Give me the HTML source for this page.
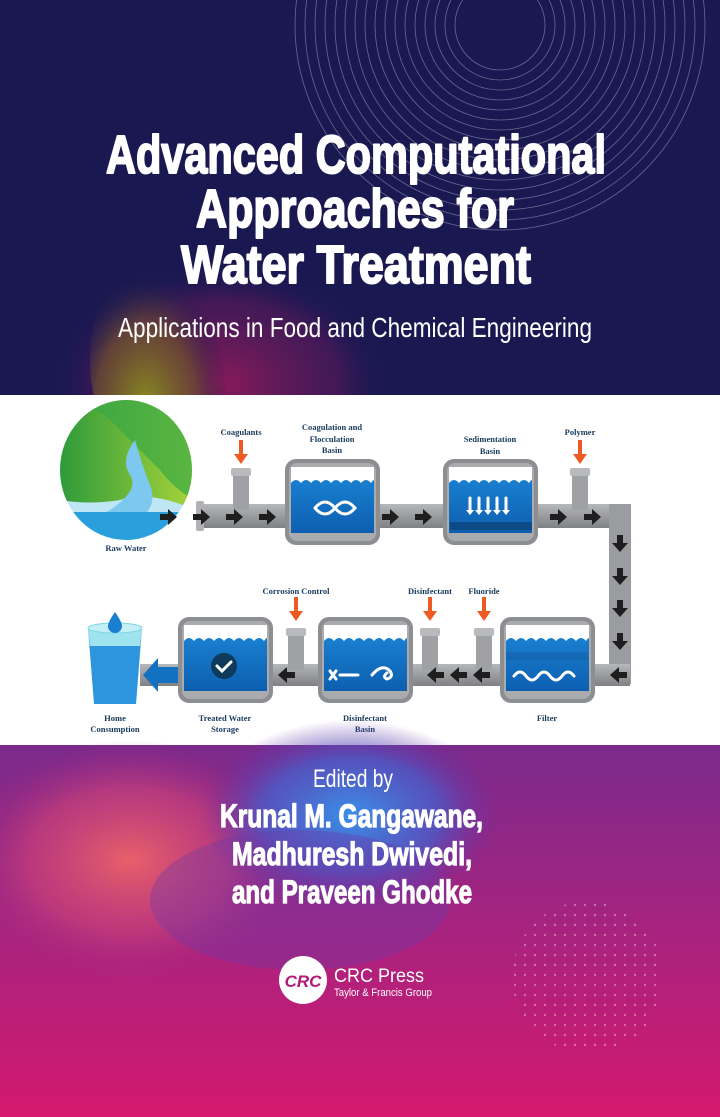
<!DOCTYPE html>
<html><head><meta charset="utf-8"><style>
html,body{margin:0;padding:0;width:720px;height:1117px;overflow:hidden;background:#1a1851}
svg{display:block}
</style></head><body>
<svg width="720" height="1117" viewBox="0 0 720 1117" xmlns="http://www.w3.org/2000/svg">
<defs>
<linearGradient id="bot" x1="0" y1="0" x2="0" y2="1">
<stop offset="0" stop-color="#7a2a8c"/><stop offset="0.5" stop-color="#a8237f"/><stop offset="1" stop-color="#d4186e"/>
</linearGradient>
<radialGradient id="blob1" cx="0.5" cy="0.5" r="0.5">
<stop offset="0" stop-color="#3b8fe8"/><stop offset="0.6" stop-color="#4b5bc8" stop-opacity="0.8"/><stop offset="1" stop-color="#6a2fa0" stop-opacity="0"/>
</radialGradient>
<radialGradient id="blob2" cx="0.5" cy="0.5" r="0.5">
<stop offset="0" stop-color="#e8606a"/><stop offset="0.6" stop-color="#c8407a" stop-opacity="0.7"/><stop offset="1" stop-color="#a02a80" stop-opacity="0"/>
</radialGradient>
<radialGradient id="topblob" cx="0.5" cy="0.6" r="0.5">
<stop offset="0" stop-color="#8a1a5a"/><stop offset="0.7" stop-color="#5a1a5a" stop-opacity="0.6"/><stop offset="1" stop-color="#1a1851" stop-opacity="0"/>
</radialGradient>
<radialGradient id="yel" cx="0.4" cy="0.7" r="0.6">
<stop offset="0" stop-color="#8a8a20"/><stop offset="0.6" stop-color="#6a4a30" stop-opacity="0.8"/><stop offset="1" stop-color="#1a1851" stop-opacity="0"/>
</radialGradient>
<linearGradient id="water" x1="0" y1="0" x2="0" y2="1"><stop offset="0" stop-color="#1a7fd0"/><stop offset="1" stop-color="#0d5fb0"/></linearGradient>
<linearGradient id="pipeH" x1="0" y1="0" x2="0" y2="1"><stop offset="0" stop-color="#b5b7ba"/><stop offset="0.5" stop-color="#9a9c9f"/><stop offset="1" stop-color="#7f8184"/></linearGradient>
<linearGradient id="land" x1="0" y1="0" x2="1" y2="0"><stop offset="0" stop-color="#2e9a3a"/><stop offset="1" stop-color="#a8d53a"/></linearGradient>
<clipPath id="circ"><ellipse cx="126" cy="470" rx="66" ry="70"/></clipPath>
<g id="tank">
<rect x="0" y="0" width="95" height="86" rx="11" fill="#8c8e91"/>
<rect x="4" y="4" width="87" height="78" rx="8" fill="#a9abae"/>
<rect x="6" y="20" width="83" height="54" fill="url(#water)"/>
<path d="M6 24 q5 -6 10 0 q5 -6 10 0 q5 -6 10 0 q5 -6 10 0 q5 -6 10 0 q5 -6 10 0 q5 -6 10 0 q5 -6 10 0 q4 -6 3 0 V18 H6Z" fill="#fff"/>
<rect x="6" y="8" width="83" height="12" fill="#fff"/>
</g>
<g id="arR"><path d="M0 -3 h8 v-5 l9 8 l-9 8 v-5 h-8z" fill="#1e1e1e"/></g>
<g id="arD"><path d="M-3 0 v8 h-5 l8 9 l8 -9 h-5 v-8z" fill="#1e1e1e"/></g>
<g id="arO"><path d="M-2 0 h4 v14 h5 l-7 10 l-7 -10 h5z" fill="#ef5a24"/></g>
<g id="stub"><rect x="0" y="6" width="16" height="36" fill="#9fa1a4"/><rect x="-2" y="0" width="20" height="8" rx="2" fill="#b8babd"/></g>
<pattern id="dots" width="10" height="10" patternUnits="userSpaceOnUse"><circle cx="5" cy="5" r="1.2" fill="#fff"/></pattern>
</defs>

<rect x="0" y="0" width="720" height="395" fill="#1a1851"/>
<ellipse cx="220" cy="360" rx="170" ry="120" fill="url(#topblob)"/>
<ellipse cx="160" cy="360" rx="70" ry="110" fill="url(#yel)"/>
<g fill="none" stroke="#ffffff" stroke-opacity="0.35" stroke-width="0.8">
<circle cx="500" cy="25" r="45"/><circle cx="500" cy="25" r="55"/><circle cx="500" cy="25" r="65"/><circle cx="500" cy="25" r="75"/><circle cx="500" cy="25" r="85"/><circle cx="500" cy="25" r="95"/><circle cx="500" cy="25" r="105"/><circle cx="500" cy="25" r="115"/><circle cx="500" cy="25" r="125"/><circle cx="500" cy="25" r="135"/><circle cx="500" cy="25" r="145"/><circle cx="500" cy="25" r="155"/><circle cx="500" cy="25" r="165"/><circle cx="500" cy="25" r="175"/><circle cx="500" cy="25" r="185"/><circle cx="500" cy="25" r="195"/><circle cx="500" cy="25" r="205"/>
</g>
<g font-family="'Liberation Sans Narrow','Liberation Sans',sans-serif" font-weight="bold" fill="#fff" stroke="#fff" stroke-width="2" stroke-linejoin="round">
<text x="106" y="173" font-size="54" textLength="500" lengthAdjust="spacingAndGlyphs">Advanced Computational</text>
<text x="196" y="227" font-size="54" textLength="318" lengthAdjust="spacingAndGlyphs">Approaches for</text>
<text x="181" y="283" font-size="54" textLength="350" lengthAdjust="spacingAndGlyphs">Water Treatment</text>
</g>
<text x="118" y="337" font-family="'Liberation Sans Narrow','Liberation Sans',sans-serif" font-size="28" fill="#fff" textLength="474" lengthAdjust="spacingAndGlyphs">Applications in Food and Chemical Engineering</text>

<rect x="0" y="395" width="720" height="350" fill="#fff"/>

<g clip-path="url(#circ)">
<rect x="60" y="400" width="135" height="140" fill="#bfe6f5"/>
<path d="M60 400 H195 V510 Q150 490 120 500 Q90 505 60 500Z" fill="url(#land)"/>
<path d="M60 420 Q90 400 110 420 Q130 440 160 470 Q175 490 195 500 V400 H60Z" fill="#3aa845" opacity="0.7"/>
<path d="M135 440 q-15 20 -5 35 q10 15 -20 35 q-20 12 -50 10 v20 q40 0 70 -15 q30 -15 20 -40 q-8 -20 -15 -45z" fill="#7cc8ee"/>
<rect x="60" y="512" width="135" height="30" fill="#29a0dc"/>
</g>
<rect x="196" y="504" width="430" height="24" fill="url(#pipeH)"/>
<rect x="196" y="501" width="8" height="30" rx="2" fill="#b0b2b5"/>
<rect x="609" y="504" width="22" height="180" fill="#9a9c9f"/>
<rect x="140" y="664" width="490" height="22" fill="url(#pipeH)"/>
<use href="#stub" x="233" y="468"/>
<use href="#stub" x="572" y="468"/>
<use href="#stub" x="288" y="628"/>
<use href="#stub" x="422" y="628"/>
<use href="#stub" x="476" y="628"/>
<use href="#arO" x="241" y="440"/>
<use href="#arO" x="580" y="440"/>
<use href="#arO" x="296" y="597"/>
<use href="#arO" x="430" y="597"/>
<use href="#arO" x="484" y="597"/>
<use href="#tank" x="285" y="459"/>
<use href="#tank" x="443" y="459"/>
<use href="#tank" x="500" y="617"/>
<use href="#tank" x="318" y="617"/>
<use href="#tank" x="178" y="617"/>
<use href="#arR" x="160" y="517"/><use href="#arR" x="193" y="517"/><use href="#arR" x="226" y="517"/><use href="#arR" x="259" y="517"/>
<use href="#arR" x="382" y="517"/><use href="#arR" x="415" y="517"/>
<use href="#arR" x="550" y="517"/><use href="#arR" x="584" y="517"/>
<use href="#arD" x="620" y="535"/><use href="#arD" x="620" y="568"/><use href="#arD" x="620" y="600"/><use href="#arD" x="620" y="633"/>
<g transform="translate(1240,0) scale(-1,1)">
<use href="#arR" x="613" y="675"/><use href="#arR" x="750" y="675"/><use href="#arR" x="773" y="675"/><use href="#arR" x="796" y="675"/><use href="#arR" x="945" y="675"/>
</g>
<g stroke="#fff" stroke-width="3" fill="none" stroke-linecap="round">
<path d="M315 508 q10 -12 20 0 q10 12 20 0 q-10 -12 -20 0 q-10 12 -20 0"/>
<path d="M470 498 v14 M479 498 v14 M488 498 v14 M497 498 v14 M506 498 v14"/>
<path d="M514 676 q6 -8 12 0 q6 8 12 0 q6 -8 12 0 q6 8 12 0 q6 -8 12 0"/>
<path d="M340 675 h18 M336 671 l-6 8 M330 671 l6 8"/>
<path d="M372 675 q10 -12 18 -4 q4 6 -3 8 q-5 -2 0 -6"/>
</g>
<path d="M466 510 l4 5 l4 -5 M475 510 l4 5 l4 -5 M484 510 l4 5 l4 -5 M493 510 l4 5 l4 -5 M502 510 l4 5 l4 -5" fill="#fff"/>
<circle cx="224" cy="666" r="13" fill="#0f3a5c"/>
<path d="M217 666 l5 5 l9 -9" stroke="#fff" stroke-width="3" fill="none" stroke-linecap="round"/>
<g fill="#0c3a6a" opacity="0.6">
<rect x="450" y="522" width="82" height="8"/>
<rect x="506" y="652" width="82" height="8" opacity="0.3"/>
</g>
<path d="M178 667 h-20 v-9 l-15 17 l15 17 v-9 h20z" fill="#1470c0"/>
<path d="M88 628 l6 76 h42 l6 -76z" fill="#2d95de"/>
<path d="M88 628 l2 18 h50 l2 -18z" fill="#9fe3ee"/>
<ellipse cx="115" cy="628" rx="27" ry="5" fill="#c4f0f5" stroke="#7dd6e6"/>
<path d="M115 612 q-7 10 -7 14 a7 7 0 0 0 14 0 q0 -4 -7 -14z" fill="#1a7fd0"/>
<g font-family="'Liberation Serif',serif" font-weight="bold" fill="#183a5c" font-size="8.5" text-anchor="middle">
<text x="126" y="551">Raw Water</text>
<text x="241" y="435">Coagulants</text>
<text x="332" y="430">Coagulation and</text>
<text x="332" y="442">Flocculation</text>
<text x="332" y="453">Basin</text>
<text x="490" y="442">Sedimentation</text>
<text x="490" y="454">Basin</text>
<text x="580" y="435">Polymer</text>
<text x="296" y="594">Corrosion Control</text>
<text x="430" y="594">Disinfectant</text>
<text x="484" y="594">Fluoride</text>
<text x="115" y="721">Home</text>
<text x="115" y="732">Consumption</text>
<text x="225" y="721">Treated Water</text>
<text x="225" y="732">Storage</text>
<text x="365" y="721">Disinfectant</text>
<text x="365" y="732">Basin</text>
<text x="547" y="721">Filter</text>
</g>

<rect x="0" y="745" width="720" height="372" fill="url(#bot)"/>
<ellipse cx="130" cy="860" rx="170" ry="120" fill="url(#blob2)"/>
<ellipse cx="350" cy="815" rx="150" ry="95" fill="url(#blob1)"/>
<ellipse cx="300" cy="900" rx="150" ry="70" fill="#6a3aa8" opacity="0.35"/>
<circle cx="588" cy="977" r="76" fill="url(#dots)" opacity="0.35"/>
<text x="313" y="787" font-family="'Liberation Sans Narrow','Liberation Sans',sans-serif" font-size="25" fill="#fff" textLength="80" lengthAdjust="spacingAndGlyphs">Edited by</text>
<g font-family="'Liberation Sans Narrow','Liberation Sans',sans-serif" font-weight="bold" fill="#fff" stroke="#fff" stroke-width="1.2" font-size="32">
<text x="220" y="827" textLength="263" lengthAdjust="spacingAndGlyphs">Krunal M. Gangawane,</text>
<text x="232" y="865" textLength="240" lengthAdjust="spacingAndGlyphs">Madhuresh Dwivedi,</text>
<text x="232" y="903" textLength="240" lengthAdjust="spacingAndGlyphs">and Praveen Ghodke</text>
</g>
<circle cx="303" cy="980" r="24" fill="#fff"/>
<text x="303" y="987" font-family="'Liberation Sans',sans-serif" font-weight="bold" font-style="italic" font-size="17" fill="#b01a7a" text-anchor="middle">CRC</text>
<text x="334" y="982" font-family="'Liberation Sans',sans-serif" font-size="19" fill="#fff" textLength="90" lengthAdjust="spacingAndGlyphs">CRC Press</text>
<text x="334" y="996" font-family="'Liberation Sans Narrow','Liberation Sans',sans-serif" font-size="11" fill="#fff" textLength="98" lengthAdjust="spacingAndGlyphs">Taylor &amp; Francis Group</text>
</svg>
</body></html>
